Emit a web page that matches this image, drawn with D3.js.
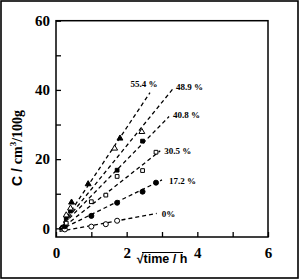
<!DOCTYPE html>
<html><head><meta charset="utf-8">
<script src="https://cdn.jsdelivr.net/npm/d3@7"></script>
<style>
html,body{margin:0;padding:0;background:#fff;}
svg{display:block;}
</style></head>
<body>
<svg id="c" width="300" height="280"></svg>
<script>
// ---- data ----
const seriesNames = ["0%", "17.2 %", "30.5 %", "40.8 %", "48.9 %", "55.4 %"];
const markerKinds = ["circle-open", "circle-filled", "square-open", "square-filled", "triangle-open", "triangle-filled"];
const xTicks = [0, 1, 2, 3, 4, 5, 6];
const xTickLabels = ["0", "", "2", "", "4", "", "6"];
const yTicks = [0, 10, 20, 30, 40, 50, 60];
const yTickLabels = ["0", "", "20", "", "40", "", "60"];

const s0x  = [0.25, 1.0, 1.41, 1.73];
const s0y  = [-0.3, 0.5, 1.2, 2.2];
const s17x = [0.25, 1.0, 1.73, 2.45, 2.83];
const s17y = [0.6, 3.6, 7.4, 10.6, 13.2];
const s30x = [0.29, 1.0, 1.41, 1.73, 2.45, 2.83];
const s30y = [1.5, 7.7, 9.6, 15.0, 16.7, 22.0];
const s40x = [0.29, 0.41, 1.73, 2.45];
const s40y = [3.0, 5.0, 16.8, 25.2];
const s48x = [0.29, 0.41, 1.66, 2.43];
const s48y = [3.8, 5.8, 23.1, 27.9];
const s55x = [0.44, 0.91, 1.81];
const s55y = [7.5, 12.8, 26.0];

// fitted dashed lines (data units)
const lineStartX = [0.1, 0.1, 0.1, 0.1, 0.1, 0.1];
const lineStartY = [-0.9, -0.5, -0.5, 0.0, 0.0, 0.0];
const lineEndX   = [2.85, 3.0, 2.95, 3.2, 3.3, 2.66];
const lineEndY   = [4.3, 14.0, 22.4, 32.3, 40.2, 39.2];

const seriesX = [s0x, s17x, s30x, s40x, s48x, s55x];
const seriesY = [s0y, s17y, s30y, s40y, s48y, s55y];

// ---- layout ----
const labelOffsets = [[5, 0.5, "start"], [7, 1, "start"], [4, 0, "start"], [4, -1.5, "start"], [3.5, -2, "start"], [-6, -8.5, "middle"]];

const svg = d3.select("#c");
const x = d3.scaleLinear().domain([0, 6]).range([56, 268]);
const y = d3.scaleLinear().domain([-2.5, 60]).range([237, 20.7]);

svg.append("rect").attr("x", 1).attr("y", 1).attr("width", 297).attr("height", 277)
  .attr("fill", "none").attr("stroke", "#000").attr("stroke-width", 1.6);

svg.append("clipPath").attr("id", "pc").append("rect")
  .attr("x", 56).attr("y", 20.7).attr("width", 212).attr("height", 216.3);

const serif = "'Liberation Serif','Times New Roman',serif";
const xa = svg.append("g").attr("transform", "translate(0,237)")
  .call(d3.axisBottom(x).tickValues(xTicks).tickSize(-5).tickPadding(10)
    .tickFormat((d, i) => xTickLabels[i]));
const ya = svg.append("g").attr("transform", "translate(56,0)")
  .call(d3.axisLeft(y).tickValues(yTicks).tickSize(-5).tickPadding(6)
    .tickFormat((d, i) => yTickLabels[i]));
[xa, ya].forEach(g => {
  g.select(".domain").remove();
  g.selectAll(".tick line").attr("stroke", "#000").attr("stroke-width", 1.3);
  g.selectAll(".tick text").attr("fill", "#000").style("font-family", serif)
    .style("font-size", "15px").style("font-weight", "bold");
});

svg.append("rect").attr("x", 56).attr("y", 20.7).attr("width", 212).attr("height", 216.3)
  .attr("fill", "none").attr("stroke", "#000").attr("stroke-width", 1.5);

const plot = svg.append("g").attr("clip-path", "url(#pc)");

seriesNames.forEach((n, i) => {
  plot.append("line")
    .attr("x1", x(lineStartX[i])).attr("y1", y(lineStartY[i]))
    .attr("x2", x(lineEndX[i])).attr("y2", y(lineEndY[i]))
    .attr("stroke", "#000").attr("stroke-width", 1.3).attr("stroke-dasharray", "4,3");
});

const symType = {circle: d3.symbolCircle, square: d3.symbolSquare, triangle: d3.symbolTriangle};
const symSize = {circle: 20, square: 14, triangle: 15};
seriesNames.forEach((n, i) => {
  const [shape, fill] = markerKinds[i].split("-");
  const pts = seriesX[i].map((v, j) => [v, seriesY[i][j]]);
  plot.selectAll(null).data(pts).enter().append("path")
    .attr("transform", d => `translate(${x(d[0])},${y(d[1])})`)
    .attr("d", d3.symbol().type(symType[shape]).size(symSize[shape]))
    .attr("fill", fill === "filled" ? "#000" : "#fff")
    .attr("stroke", "#000").attr("stroke-width", 1);
});

seriesNames.forEach((n, i) => {
  const o = labelOffsets[i];
  svg.append("text")
    .attr("x", x(lineEndX[i]) + o[0]).attr("y", y(lineEndY[i]) + o[1])
    .attr("dy", "0.35em").attr("text-anchor", o[2])
    .style("font-family", serif).style("font-size", "9px").style("font-weight", "bold")
    .text(n);
});

const yt = svg.append("text").attr("transform", "translate(22,148) rotate(-90)")
  .attr("text-anchor", "middle").style("font-size", "14px").style("font-weight", "bold");
yt.append("tspan").style("font-family", "'Liberation Sans',Arial,sans-serif").text("C / ");
yt.append("tspan").style("font-family", serif).text("cm");
yt.append("tspan").style("font-family", serif).style("font-size", "9px").attr("dy", -6).text("3");
yt.append("tspan").style("font-family", serif).attr("dy", 6).text("/100g");

svg.append("text").attr("x", 162).attr("y", 263).attr("text-anchor", "middle")
  .style("font-family", "'Liberation Sans',Arial,sans-serif").style("font-size", "12.5px").style("font-weight", "bold")
  .text("\u221Atime / h");
svg.append("line").attr("x1", 142).attr("x2", 183).attr("y1", 252.5).attr("y2", 252.5)
  .attr("stroke", "#000").attr("stroke-width", 1.2);
</script>
</body></html>
